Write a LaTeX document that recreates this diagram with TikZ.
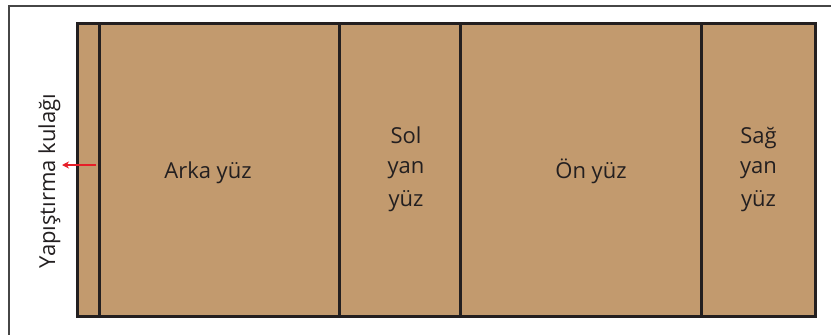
\documentclass[tikz,border=0pt]{standalone}
\usepackage{fontspec}
\setmainfont{Open Sans}
\usetikzlibrary{arrows.meta}
\definecolor{tan}{RGB}{194,154,110}
\definecolor{ink}{RGB}{35,31,32}
\definecolor{frame}{RGB}{70,70,70}
\definecolor{arrowred}{RGB}{230,30,40}
\tikzset{
  panel/.style={draw=ink, line width=3pt, fill=tan},
  fold/.style={draw=ink, line width=3pt},
  lbl/.style={font=\fontsize{22}{31.5}\selectfont, text=ink, align=center, inner sep=0pt},
  outerframe/.style={draw=frame, line width=1.6pt},
  pointer/.style={draw=arrowred, line width=1.4pt, -{Stealth[length=7pt,width=7pt]}}
}
\begin{document}
\begin{tikzpicture}[x=1pt,y=-1pt]
\useasboundingbox (0,0) rectangle (831,335);
% outer frame (open at right and bottom)
\draw[outerframe] (9,340) -- (9,6) -- (840,6);
% inner strip
\draw[panel] (77.5,23.3) rectangle (815.7,316.7);
\coordinate (f1t) at (99.2,23.3);  \coordinate (f1b) at (99.2,316.7);
\coordinate (f2t) at (339.5,23.3); \coordinate (f2b) at (339.5,316.7);
\coordinate (f3t) at (460.5,23.3); \coordinate (f3b) at (460.5,316.7);
\coordinate (f4t) at (701,23.3);   \coordinate (f4b) at (701,316.7);
\draw[fold] (f1t) -- (f1b);
\draw[fold] (f2t) -- (f2b);
\draw[fold] (f3t) -- (f3b);
\draw[fold] (f4t) -- (f4b);
% labels
\node[lbl, anchor=base] (arka) at (208,178) {Arka yüz};
\node[lbl, anchor=base] (sol1) at (406,143) {Sol};
\node[lbl, anchor=base] (sol2) at (406,173) {yan};
\node[lbl, anchor=base] (sol3) at (406,206) {yüz};
\node[lbl, anchor=base] (on) at (591,178) {Ön yüz};
\node[lbl, anchor=base] (sag1) at (758.5,143) {Sağ};
\node[lbl, anchor=base] (sag2) at (758.5,173) {yan};
\node[lbl, anchor=base] (sag3) at (758.5,206) {yüz};
\node[lbl, anchor=base, rotate=90] (kulak) at (55,181) {Yapıştırma kulağı};
% arrow
\coordinate (ast) at (96,165);
\coordinate (aen) at (62,165);
\draw[pointer] (ast) -- (aen);
\end{tikzpicture}
\end{document}
